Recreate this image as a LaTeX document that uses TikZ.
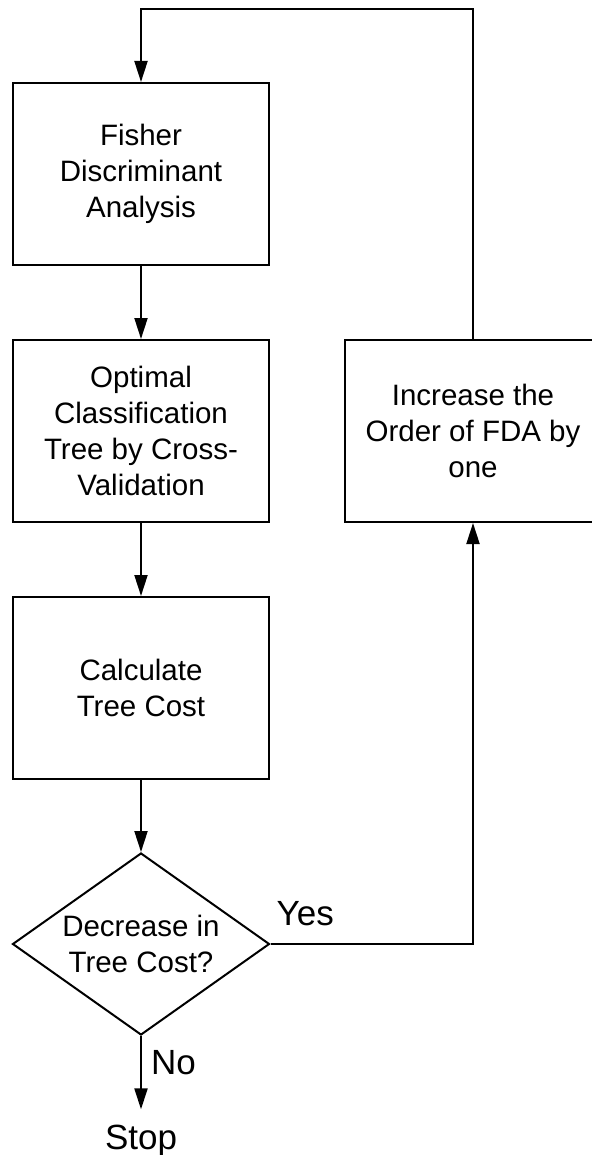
\documentclass[tikz,border=0pt]{standalone}
\usepackage{fontspec}
\setmainfont{Liberation Sans}
\usepackage{tikz}
\usetikzlibrary{arrows.meta,positioning,shapes.geometric,calc}

\begin{document}
\begin{tikzpicture}[
  x=1pt,y=1pt,
  >={Triangle[length=21pt,width=13pt]},
  process/.style={draw,line width=2pt,minimum width=256pt,minimum height=182pt,align=center,font=\fontsize{29.5}{36}\selectfont},
  decision/.style={draw,diamond,line width=2pt,minimum width=257pt,minimum height=182pt,inner sep=0pt},
  lbl/.style={font=\fontsize{35}{42}\selectfont,inner sep=0pt},
  arrow/.style={->,line width=2pt}
]
\useasboundingbox (0,0) rectangle (591,-1155);
\node[process] (fda) at (141,-174) {Fisher\\Discriminant\\Analysis};
\node[process,below=73pt of fda] (tree) {Optimal\\Classification\\Tree by Cross-\\Validation};
\node[process,below=73pt of tree] (cost) {Calculate\\Tree Cost};
\node[decision,below=72pt of cost,label={[align=center,font=\fontsize{29.5}{36}\selectfont]center:Decrease in\\Tree Cost?}] (dec) {};
\node[process,right=74pt of tree] (inc) {Increase the\\Order of FDA by\\one};
\draw[arrow] (fda) -- (tree);
\draw[arrow] (tree) -- (cost);
\draw[arrow] (cost) -- (dec);
\draw[arrow] (dec.east) -| (inc.south);
\coordinate (top) at ($(fda.north)+(0,73)$);
\draw[arrow] (inc.north) |- (top) -- (fda.north);
\node[lbl,anchor=base west] (yes) at ($(dec.east)+(6,19)$) {Yes};
\node[lbl,anchor=base west] (no) at ($(dec.south)+(10,-38)$) {No};
\node[lbl,anchor=base] (stop) at ($(dec.south)+(0,-113)$) {Stop};
\draw[arrow,shorten >=15pt] (dec.south) -- (stop.north);
\end{tikzpicture}
\end{document}
